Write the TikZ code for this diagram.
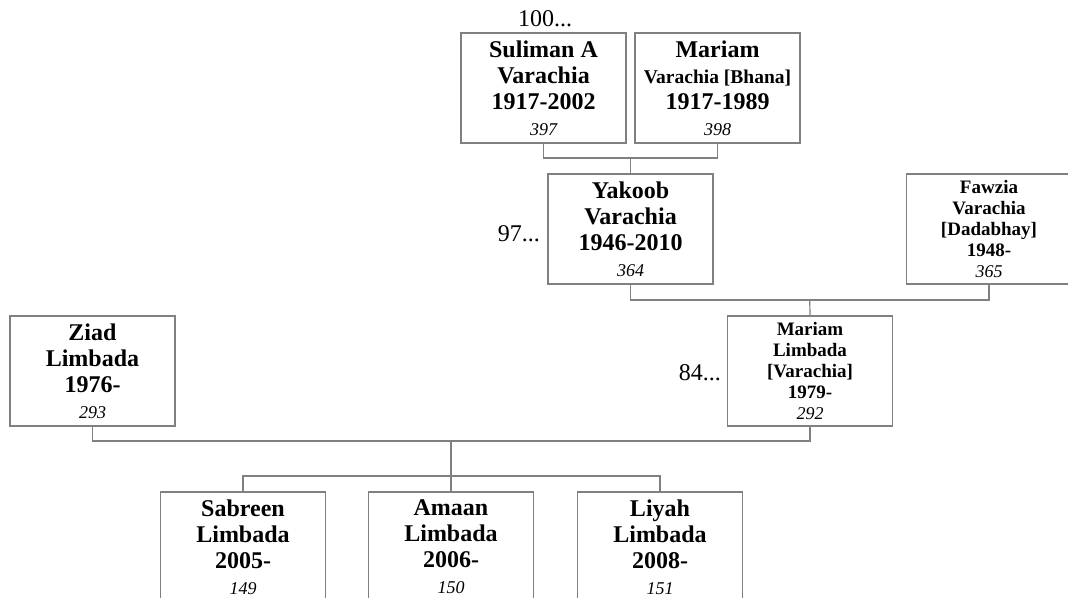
\documentclass[tikz,border=0pt]{standalone}
\usepackage{fontspec}
\setmainfont{Liberation Serif}
\definecolor{lnc}{RGB}{128,128,128}
\tikzset{
  person/.style={draw=lnc, line width=1.2pt, fill=white, minimum width=165pt, minimum height=110pt,
    inner sep=0pt, align=center, font=\fontsize{24}{26}\selectfont\bfseries},
  smallperson/.style={person, font=\fontsize{19}{21}\selectfont\bfseries},
  link/.style={draw=lnc, line width=1.2pt},
  more/.style={font=\fontsize{24}{26}\selectfont, inner sep=0pt}
}
\newcommand{\idn}[1]{{\fontsize{18}{20}\selectfont\mdseries\itshape #1}}
\begin{document}
\begin{tikzpicture}[x=1pt,y=-1pt]
\useasboundingbox[fill=white] (0,0) rectangle (1068,597);
% people
\node[person] (suliman) at (543.5,88) {Suliman A\\Varachia\\1917-2002\\\idn{397}};
\node[person] (mariamA) at (717.5,88) {Mariam\\{\fontsize{19.5}{21}\selectfont Varachia [Bhana]}\\1917-1989\\\idn{398}};
\node[person] (yakoob) at (630.5,229) {Yakoob\\Varachia\\1946-2010\\\idn{364}};
\node[smallperson] (fawzia) at (989,229) {Fawzia\\Varachia\\[0pt][Dadabhay]\\1948-\\\idn{365}};
\node[person] (ziad) at (92.5,371) {Ziad\\Limbada\\1976-\\\idn{293}};
\node[smallperson] (mariamB) at (810,371) {Mariam\\Limbada\\{}[Varachia]\\1979-\\\idn{292}};
\node[person] (sabreen) at (243,547) {Sabreen\\Limbada\\2005-\\\idn{149}};
\node[person] (amaan) at (451,547) {Amaan\\Limbada\\2006-\\\idn{150}};
\node[person] (liyah) at (660,547) {Liyah\\Limbada\\2008-\\\idn{151}};
% continuation labels
\node[more, anchor=base] (m100) at (545,27) {100...};
\node[more, anchor=base east] (m97) at (540,241) {97...};
\node[more, anchor=base east] (m84) at (721,380) {84...};
% family connectors
\coordinate (c1) at (630.5,158);
\draw[link] (suliman.south) |- (c1) -| (mariamA.south);
\draw[link] (c1) -- (yakoob.north);
\coordinate (c2) at (809.75,300);
\draw[link] (yakoob.south) |- (c2) -| (fawzia.south);
\draw[link] (c2) -- (mariamB.north);
\coordinate (c3) at (451,441);
\draw[link] (ziad.south) |- (c3) -| (mariamB.south);
\coordinate (c4) at (451,476);
\draw[link] (c3) -- (c4);
\draw[link] (sabreen.north) |- (c4) -| (liyah.north);
\draw[link] (c4) -- (amaan.north);
\end{tikzpicture}
\end{document}
